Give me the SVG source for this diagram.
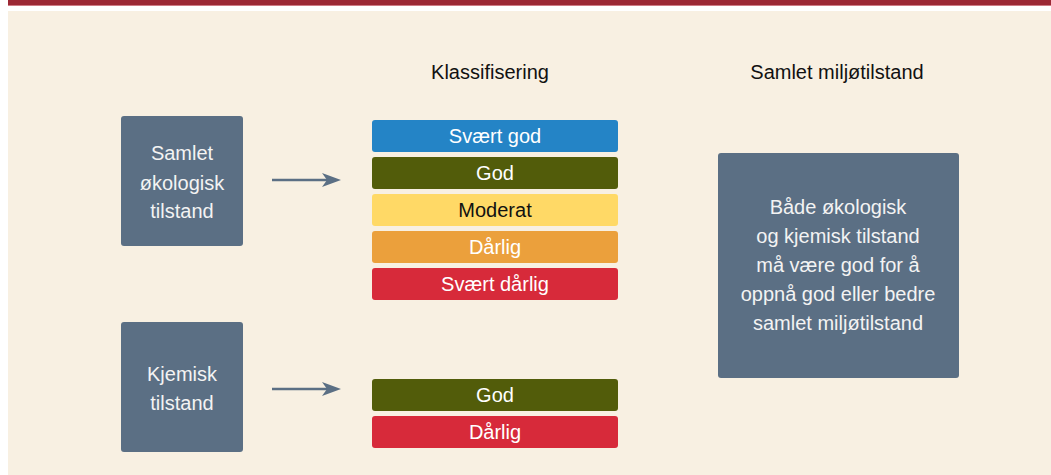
<svg xmlns="http://www.w3.org/2000/svg" width="1051" height="475" viewBox="0 0 1051 475">
  <style>
    text { font-family: "Liberation Sans", Arial, sans-serif; font-size: 20px; text-anchor: middle; }
    .head { fill: #111111; }
    .node rect { fill: #5b6f84; }
    .node text { fill: #f3f3f3; }
    .bar text { fill: #ffffff; }
    .bar text.dark { fill: #111111; }
    .conn line { stroke: #5b6f84; stroke-width: 2.5; }
    .conn path { fill: #5b6f84; }
  </style>

  <!-- page background and top rule -->
  <rect x="0" y="0" width="1051" height="475" fill="#ffffff"/>
  <rect x="8" y="11" width="1043" height="464" fill="#f8f0e2"/>
  <rect x="8" y="0" width="1043" height="5" fill="#9c2834"/>
  <rect x="8" y="5" width="1043" height="1" fill="#cf7b84"/>

  <!-- column headings -->
  <text class="head" x="490" y="79">Klassifisering</text>
  <text class="head" x="837" y="79">Samlet miljøtilstand</text>

  <!-- input states -->
  <g id="node-okologisk" class="node">
    <rect x="121" y="116" width="122" height="130" rx="3"/>
    <text x="182" y="160">Samlet</text>
    <text x="182" y="189.5">økologisk</text>
    <text x="182" y="218">tilstand</text>
  </g>
  <g id="node-kjemisk" class="node">
    <rect x="121" y="322" width="122" height="130" rx="3"/>
    <text x="182" y="381">Kjemisk</text>
    <text x="182" y="410">tilstand</text>
  </g>

  <!-- ecological classes -->
  <g id="node-klasser-okologisk" class="bar">
    <rect x="372" y="120" width="246" height="32" rx="3" fill="#2484c6"/>
    <text x="495" y="143">Svært god</text>
    <rect x="372" y="157" width="246" height="32" rx="3" fill="#525c0a"/>
    <text x="495" y="180">God</text>
    <rect x="372" y="194" width="246" height="32" rx="3" fill="#ffd966"/>
    <text class="dark" x="495" y="217">Moderat</text>
    <rect x="372" y="231" width="246" height="32" rx="3" fill="#eba03c"/>
    <text x="495" y="254">Dårlig</text>
    <rect x="372" y="268" width="246" height="32" rx="3" fill="#d72a3a"/>
    <text x="495" y="291">Svært dårlig</text>
  </g>

  <!-- chemical classes -->
  <g id="node-klasser-kjemisk" class="bar">
    <rect x="372" y="379" width="246" height="32" rx="3" fill="#525c0a"/>
    <text x="495" y="402">God</text>
    <rect x="372" y="416" width="246" height="32" rx="3" fill="#d72a3a"/>
    <text x="495" y="439">Dårlig</text>
  </g>

  <!-- overall status -->
  <g id="node-samlet" class="node">
    <rect x="718" y="153" width="241" height="225" rx="3"/>
    <text x="838" y="214">Både økologisk</text>
    <text x="838" y="243">og kjemisk tilstand</text>
    <text x="838" y="272">må være god for å</text>
    <text x="838" y="301">oppnå god eller bedre</text>
    <text x="838" y="330">samlet miljøtilstand</text>
  </g>

  <!-- connectors -->
  <g id="connectors" class="conn">
    <line x1="272" y1="180" x2="328" y2="180"/>
    <path d="M341,180 L322,173 L327,180 L322,187 Z"/>
    <line x1="272" y1="389" x2="328" y2="389"/>
    <path d="M341,389 L322,382 L327,389 L322,396 Z"/>
  </g>
</svg>
